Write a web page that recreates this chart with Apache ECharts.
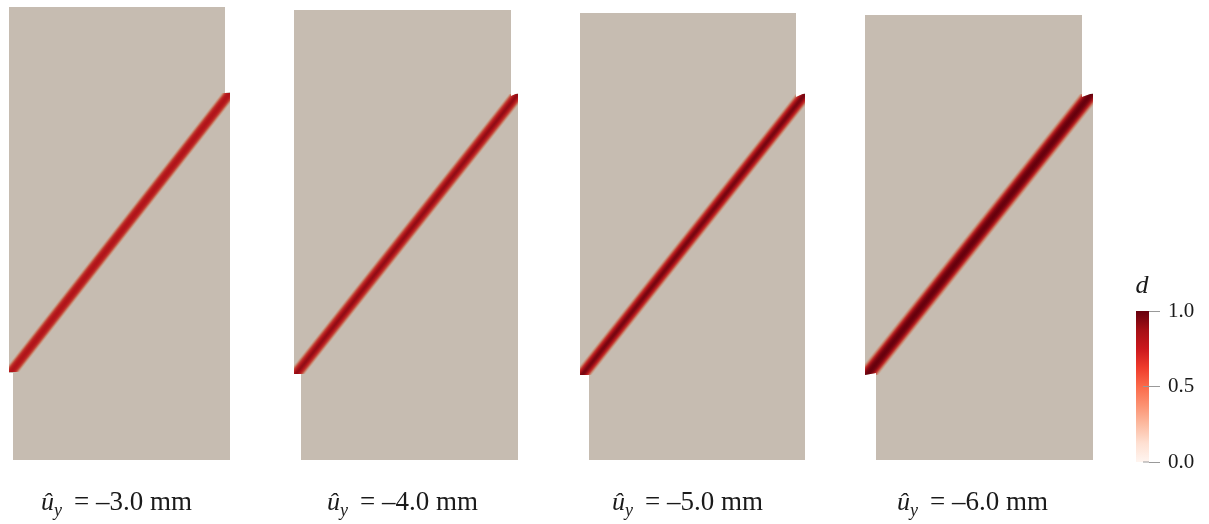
<!DOCTYPE html>
<html><head><meta charset="utf-8">
<style>html,body{margin:0;padding:0;background:#fff}#c{width:1209px;height:524px}</style>
<script src="https://cdn.jsdelivr.net/npm/echarts@6/dist/echarts.min.js"></script>
</head><body><div id="c"></div>
<script>
// ---- data ----
const panels = [0, 1, 2, 3];
const displacementLabels = ['= –3.0 mm', '= –4.0 mm', '= –5.0 mm', '= –6.0 mm'];
const bodyX = [
  [9, 225, 225, 230, 230, 13, 13, 9],
  [294, 511, 511, 518, 518, 301, 301, 294],
  [580, 796, 796, 805, 805, 589, 589, 580],
  [865, 1082, 1082, 1093, 1093, 876, 876, 865]
];
const bodyY = [
  [7, 7, 93, 92, 460, 460, 373, 373],
  [10, 10, 96, 93, 460, 460, 374, 374],
  [13, 13, 97, 93, 460, 460, 375, 375],
  [15, 15, 97, 93, 460, 460, 373, 375]
];
const crackStartX = [11, 296, 582, 867];
const crackStartY = [372, 374, 375, 375];
const crackEndX = [230, 518, 805, 1091];
const crackEndY = [93, 94, 94, 94];
const crackHalfWidth = [7, 7.5, 8, 9.5];
const profileOffsets = [0, 0.15, 0.3, 0.45, 0.6, 0.75, 0.9, 1];
const damageProfile = [
  [0.78, 0.77, 0.74, 0.68, 0.56, 0.34, 0.10, 0],
  [0.87, 0.84, 0.78, 0.70, 0.58, 0.36, 0.10, 0],
  [0.95, 0.92, 0.84, 0.74, 0.60, 0.36, 0.10, 0],
  [1.0, 0.98, 0.93, 0.82, 0.66, 0.40, 0.12, 0]
];
const labelStartX = [41, 327, 612, 897];
const labelY = [503, 503, 503, 503];
const colorbarTicks = [0, 0.5, 1];
const colormapStops = ['#fff5f0', '#fee0d2', '#fcbba1', '#fc9272', '#fb6a4a', '#ef3b2c', '#cb181d', '#a50f15', '#67000d'];

// ---- styling ----
const bodyColor = '#c6bcb1';
const shadedBandStops = [bodyColor, '#c9a18c', '#c7634c', '#b8181c', '#67000d'];
const serif = '"Liberation Serif", serif';
function hex(c) { return [1, 3, 5].map(i => parseInt(c.substr(i, 2), 16)); }
function damageColor(d) {
  const p = Math.min(d, 1) * (shadedBandStops.length - 1);
  const i = Math.min(Math.floor(p), shadedBandStops.length - 2);
  const a = hex(shadedBandStops[i]), b = hex(shadedBandStops[i + 1]);
  const t = p - i;
  return 'rgb(' + a.map((v, k) => Math.round(v + (b[k] - v) * t)).join(',') + ')';
}
function renderPanel(params, api) {
  const k = api.value(0);
  const pts = bodyX[k].map((x, i) => api.coord([x, bodyY[k][i]]));
  const a = api.coord([crackStartX[k], crackStartY[k]]);
  const b = api.coord([crackEndX[k], crackEndY[k]]);
  const dx = b[0] - a[0], dy = b[1] - a[1], len = Math.hypot(dx, dy);
  const hw = crackHalfWidth[k];
  const nx = -dy / len * hw, ny = dx / len * hw;
  const stops = [];
  const prof = damageProfile[k];
  for (let i = prof.length - 1; i >= 0; i--) stops.push({ offset: 0.5 - profileOffsets[i] / 2, color: damageColor(prof[i]) });
  for (let i = 1; i < prof.length; i++) stops.push({ offset: 0.5 + profileOffsets[i] / 2, color: damageColor(prof[i]) });
  const hx = hw * len / Math.abs(dy);
  return {
    type: 'group',
    children: [
      { type: 'polygon', shape: { points: pts }, style: { fill: bodyColor } },
      {
        type: 'polygon',
        shape: { points: [[a[0] - hx, a[1]], [a[0] + hx, a[1]], [b[0] + hx, b[1]], [b[0] - hx, b[1]]] },
        style: { fill: new echarts.graphic.LinearGradient(a[0] + nx, a[1] + ny, a[0] - nx, a[1] - ny, stops, true) },
        clipPath: { type: 'polygon', shape: { points: pts } }
      }
    ]
  };
}
function renderLabel(params, api) {
  const k = api.value(0);
  const p = api.coord([labelStartX[k], labelY[k]]);
  const base = { fontFamily: serif, fill: '#1a1a1a', verticalAlign: 'middle' };
  return {
    type: 'group',
    children: [
      { type: 'text', x: p[0], y: p[1], style: Object.assign({}, base, { text: 'û', fontStyle: 'italic', fontSize: 26 }) },
      { type: 'text', x: p[0] + 13, y: p[1] + 8, style: Object.assign({}, base, { text: 'y', fontStyle: 'italic', fontSize: 18 }) },
      { type: 'text', x: p[0] + 33, y: p[1], style: Object.assign({}, base, { text: displacementLabels[k], fontSize: 27 }) }
    ]
  };
}
function renderBar(params, api) {
  const top = api.coord([0, 1]), bottom = api.coord([13, 0]);
  const inner = colorbarTicks.filter(v => v < 1).map(v => {
    const q = api.coord([7, v]), r = api.coord([13, v]);
    return { type: 'line', shape: { x1: q[0], y1: q[1], x2: r[0], y2: r[1] }, style: { stroke: '#999', lineWidth: 1 } };
  });
  return {
    type: 'group',
    children: [{
      type: 'rect',
      shape: { x: top[0], y: top[1], width: bottom[0] - top[0], height: bottom[1] - top[1] },
      style: {
        fill: new echarts.graphic.LinearGradient(0, 1, 0, 0,
          colormapStops.map((c, i) => ({ offset: i / (colormapStops.length - 1), color: c })))
      }
    }].concat(inner)
  };
}
const chart = echarts.init(document.getElementById('c'), null, { renderer: 'canvas' });
chart.setOption({
  animation: false,
  backgroundColor: '#fff',
  grid: [
    { left: 0, top: 0, width: 1209, height: 524 },
    { left: 1136, top: 311, width: 13, height: 151 }
  ],
  xAxis: [
    { type: 'value', gridIndex: 0, min: 0, max: 1209, show: false },
    { type: 'value', gridIndex: 1, min: 0, max: 13, show: false }
  ],
  yAxis: [
    { type: 'value', gridIndex: 0, min: 0, max: 524, inverse: true, show: false },
    {
      type: 'value', gridIndex: 1, min: 0, max: 1, interval: 0.5, position: 'right', z: 5,
      name: 'd', nameLocation: 'end', nameGap: 12,
      nameTextStyle: { fontFamily: serif, fontStyle: 'italic', fontSize: 26, color: '#1a1a1a', align: 'center', padding: [0, 14, 0, 0] },
      axisLine: { show: false, onZero: false }, splitLine: { show: false },
      axisTick: { show: true, inside: false, length: 11, lineStyle: { color: '#999', width: 1 } },
      axisLabel: { margin: 19, fontFamily: serif, fontSize: 21, color: '#1a1a1a', formatter: v => v.toFixed(1) }
    }
  ],
  series: [
    { type: 'custom', xAxisIndex: 0, yAxisIndex: 0, clip: false, renderItem: renderPanel, data: panels.map(p => [p]), encode: { x: 0, y: 0 }, silent: true },
    { type: 'custom', xAxisIndex: 0, yAxisIndex: 0, clip: false, renderItem: renderLabel, data: panels.map(p => [p]), encode: { x: 0, y: 0 }, silent: true },
    { type: 'custom', xAxisIndex: 1, yAxisIndex: 1, clip: false, renderItem: renderBar, data: [[0, 0]], silent: true }
  ]
});
</script></body></html>
